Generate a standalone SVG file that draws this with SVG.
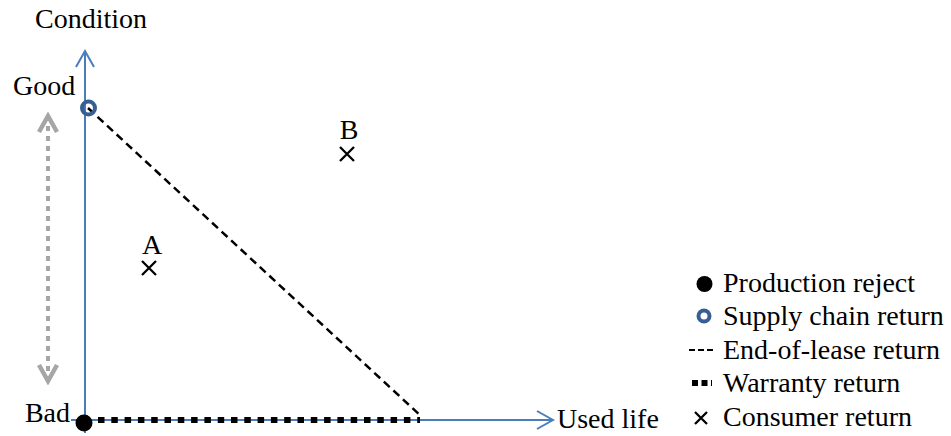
<svg xmlns="http://www.w3.org/2000/svg" width="951" height="436" viewBox="0 0 951 436">
<style>
  .t { font-family: "Liberation Serif", "DejaVu Serif", serif; font-size: 28px; fill: #000; }
  .axis { stroke: #4a7ebb; stroke-width: 2; fill: none; }
  .eol { stroke: #000; stroke-width: 2.5; stroke-dasharray: 8 5; fill: none; }
  .war { stroke: #000; stroke-width: 6; stroke-dasharray: 6.5 6.8; fill: none; }
  .cross { stroke: #000; stroke-width: 2.3; fill: none; }
  .ring { fill: none; stroke: #375f93; stroke-width: 4; }
  .range { stroke: #a6a6a6; stroke-width: 4; stroke-dasharray: 5 5; fill: none; }
</style>
<defs>
  <marker id="axisHead" markerUnits="userSpaceOnUse" markerWidth="20" markerHeight="22" viewBox="-18 -11 20 22" refX="0" refY="0" orient="auto">
    <path d="M-16,-9 L0,0 L-16,9" fill="none" stroke="#4a7ebb" stroke-width="2"/>
  </marker>
  <marker id="greyHead" markerUnits="userSpaceOnUse" markerWidth="24" markerHeight="26" viewBox="-20 -13 24 26" refX="0" refY="0" orient="auto-start-reverse">
    <path d="M-16,-9 L0,0 L-16,9" fill="none" stroke="#a6a6a6" stroke-width="4.5"/>
  </marker>
</defs>
<rect width="951" height="436" fill="#fff"/>

<g id="connectors">
  <line id="y-axis" class="axis" x1="85" y1="433" x2="85" y2="51" marker-end="url(#axisHead)"/>
  <line id="x-axis" class="axis" x1="71" y1="420" x2="553" y2="420" marker-end="url(#axisHead)"/>
  <line id="condition-range" class="range" x1="48" y1="116" x2="48" y2="381" marker-start="url(#greyHead)" marker-end="url(#greyHead)"/>
  <line id="end-of-lease-line" class="eol" x1="88" y1="108" x2="421" y2="416"/>
  <line id="warranty-line" class="war" x1="98" y1="420" x2="420" y2="420"/>
</g>

<g id="axis-labels">
  <text class="t" x="35" y="28" font-family="Liberation Serif, DejaVu Serif, serif">Condition</text>
  <text class="t" x="13" y="95" font-family="Liberation Serif, DejaVu Serif, serif">Good</text>
  <text class="t" x="70" y="422" text-anchor="end" font-family="Liberation Serif, DejaVu Serif, serif">Bad</text>
  <text class="t" x="557" y="428" font-family="Liberation Serif, DejaVu Serif, serif">Used life</text>
</g>

<g id="supply-chain-point">
  <circle class="ring" cx="88.5" cy="108" r="6.5"/>
</g>
<g id="production-reject-point">
  <circle cx="84" cy="423" r="8.5" fill="#000"/>
</g>

<g id="point-A">
  <text class="t" x="152" y="254" text-anchor="middle" font-family="Liberation Serif, DejaVu Serif, serif">A</text>
  <path class="cross" d="M142,261 L156,275 M156,261 L142,275"/>
</g>
<g id="point-B">
  <text class="t" x="349" y="139" text-anchor="middle" font-family="Liberation Serif, DejaVu Serif, serif">B</text>
  <path class="cross" d="M340,147 L354,161 M354,147 L340,161"/>
</g>

<g id="legend">
  <g id="legend-production-reject">
    <circle cx="704.5" cy="284" r="8" fill="#000"/>
    <text class="t" x="723" y="292" font-family="Liberation Serif, DejaVu Serif, serif">Production reject</text>
  </g>
  <g id="legend-supply-chain-return">
    <circle class="ring" cx="704" cy="316" r="5.5" stroke-width="3.5"/>
    <text class="t" x="723" y="325" font-family="Liberation Serif, DejaVu Serif, serif">Supply chain return</text>
  </g>
  <g id="legend-end-of-lease-return">
    <line x1="689" y1="350" x2="713" y2="350" stroke="#000" stroke-width="2" stroke-dasharray="6 3"/>
    <text class="t" x="723" y="359" font-family="Liberation Serif, DejaVu Serif, serif">End-of-lease return</text>
  </g>
  <g id="legend-warranty-return">
    <line x1="692" y1="383" x2="712" y2="383" stroke="#000" stroke-width="6" stroke-dasharray="6 3.5"/>
    <text class="t" x="723" y="392" font-family="Liberation Serif, DejaVu Serif, serif">Warranty return</text>
  </g>
  <g id="legend-consumer-return">
    <path class="cross" d="M695,412 L707,424 M707,412 L695,424" stroke-width="2"/>
    <text class="t" x="723" y="426" font-family="Liberation Serif, DejaVu Serif, serif">Consumer return</text>
  </g>
</g>
</svg>
